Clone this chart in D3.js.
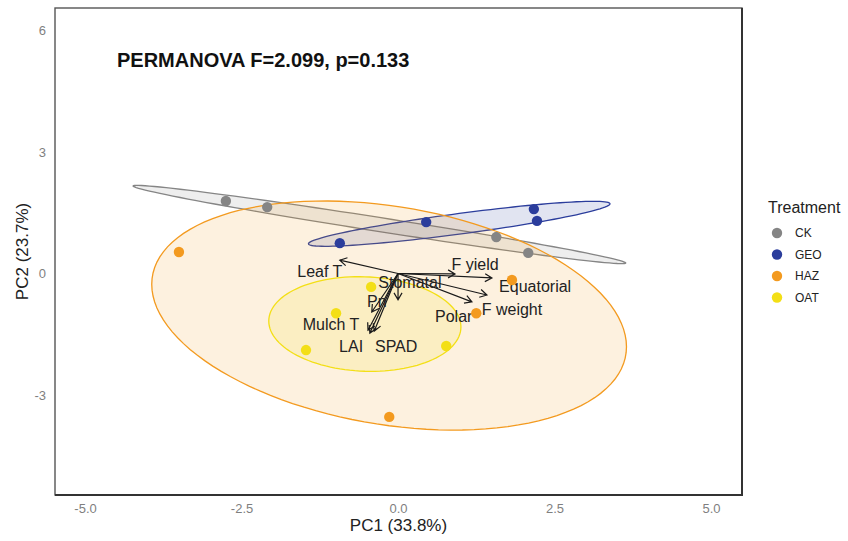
<!DOCTYPE html>
<html>
<head>
<meta charset="utf-8">
<script src="https://cdn.jsdelivr.net/npm/d3@7"></script>
<style>
  html, body { margin: 0; padding: 0; background: #fff; }
  text { font-family: "Liberation Sans", Arial, sans-serif; }
</style>
</head>
<body>
<svg id="chart" width="848" height="541"></svg>
<script>
// ---------------- data ----------------
const treatments = ["CK", "GEO", "HAZ", "OAT"];
const treatmentColors = ["#858585", "#2b3d9c", "#f39a1f", "#f3df16"];

const ckPC1 = [-2.75, -2.09, 1.57, 2.08];
const ckPC2 = [1.79, 1.64, 0.90, 0.51];
const geoPC1 = [-0.93, 0.45, 2.17, 2.22];
const geoPC2 = [0.75, 1.27, 1.59, 1.30];
const hazPC1 = [-3.50, 1.82, 1.25, -0.14];
const hazPC2 = [0.53, -0.16, -0.98, -3.54];
const oatPC1 = [-0.43, -0.99, -1.47, 0.77];
const oatPC2 = [-0.33, -0.98, -1.89, -1.79];

const variableNames = ["Leaf T", "F yield", "Equatorial", "F weight", "Polar", "Stomatal", "Pn", "Mulch T", "LAI", "SPAD"];
const loadingPC1 = [-0.93, 0.91, 1.50, 1.42, 1.18, 0.00, -0.42, -0.48, -0.45, -0.38];
const loadingPC2 = [0.33, -0.01, -0.11, -0.53, -0.70, -0.65, -0.95, -1.40, -1.47, -1.42];
const labelPC1 = [-1.25, 1.23, 2.19, 1.82, 0.89, 0.19, -0.34, -1.07, -0.75, -0.03];
const labelPC2 = [0.04, 0.23, -0.33, -0.88, -1.05, -0.21, -0.70, -1.27, -1.81, -1.81];

const xTicks = [-5.0, -2.5, 0.0, 2.5, 5.0];
const yTicks = [-3, 0, 3, 6];
const xDomain = [-5.48, 5.495];
const yDomain = [-5.469, 6.556];
const ellipseScale = 1.59;

const titleText = "PERMANOVA F=2.099, p=0.133";
const xTitle = "PC1 (33.8%)";
const yTitle = "PC2 (23.7%)";
const legendTitle = "Treatment";

// ---------------- layout ----------------
const panel = { left: 55, top: 8, right: 742, bottom: 495 };
const svg = d3.select("#chart");
const x = d3.scaleLinear().domain(xDomain).range([panel.left, panel.right]);
const y = d3.scaleLinear().domain(yDomain).range([panel.bottom, panel.top]);

const groups = [
  { name: treatments[0], color: treatmentColors[0], xs: ckPC1, ys: ckPC2 },
  { name: treatments[1], color: treatmentColors[1], xs: geoPC1, ys: geoPC2 },
  { name: treatments[2], color: treatmentColors[2], xs: hazPC1, ys: hazPC2 },
  { name: treatments[3], color: treatmentColors[3], xs: oatPC1, ys: oatPC2 }
];

svg.append("rect").attr("x", panel.left).attr("y", panel.top)
  .attr("width", panel.right - panel.left).attr("height", panel.bottom - panel.top)
  .attr("fill", "#fff");

svg.append("clipPath").attr("id", "clip").append("rect")
  .attr("x", panel.left).attr("y", panel.top)
  .attr("width", panel.right - panel.left).attr("height", panel.bottom - panel.top);
const plot = svg.append("g").attr("clip-path", "url(#clip)");

// ellipses from covariance of each group
function ellipsePoints(xs, ys) {
  const n = xs.length;
  const mx = d3.mean(xs), my = d3.mean(ys);
  let sxx = 0, syy = 0, sxy = 0;
  for (let i = 0; i < n; i++) {
    sxx += (xs[i] - mx) ** 2;
    syy += (ys[i] - my) ** 2;
    sxy += (xs[i] - mx) * (ys[i] - my);
  }
  sxx /= (n - 1); syy /= (n - 1); sxy /= (n - 1);
  const l11 = Math.sqrt(sxx), l21 = sxy / l11, l22 = Math.sqrt(Math.max(syy - l21 * l21, 1e-9));
  const pts = [];
  for (let k = 0; k <= 120; k++) {
    const t = 2 * Math.PI * k / 120;
    const c = Math.cos(t), s = Math.sin(t);
    pts.push([mx + ellipseScale * (l11 * c), my + ellipseScale * (l21 * c + l22 * s)]);
  }
  return pts;
}
const line = d3.line().x(d => x(d[0])).y(d => y(d[1])).curve(d3.curveLinearClosed);
groups.forEach(g => {
  plot.append("path").datum(ellipsePoints(g.xs, g.ys))
    .attr("d", line)
    .attr("fill", g.color).attr("fill-opacity", 0.14)
    .attr("stroke", g.color).attr("stroke-width", 1.3);
});

// loading arrows
const arrows = plot.append("g");
variableNames.forEach((v, i) => {
  const x0 = x(0), y0 = y(0), x1 = x(loadingPC1[i]), y1 = y(loadingPC2[i]);
  const ang = Math.atan2(y1 - y0, x1 - x0);
  const hl = 8, ha = Math.PI / 6;
  const p1 = [x1 - hl * Math.cos(ang - ha), y1 - hl * Math.sin(ang - ha)];
  const p2 = [x1 - hl * Math.cos(ang + ha), y1 - hl * Math.sin(ang + ha)];
  arrows.append("path")
    .attr("d", `M${x0},${y0}L${x1},${y1}M${p1[0]},${p1[1]}L${x1},${y1}L${p2[0]},${p2[1]}`)
    .attr("fill", "none").attr("stroke", "#1a1a1a").attr("stroke-width", 1.2);
});

// variable labels
variableNames.forEach((v, i) => {
  plot.append("text").attr("x", x(labelPC1[i])).attr("y", y(labelPC2[i]))
    .attr("text-anchor", "middle").attr("dominant-baseline", "central")
    .attr("font-size", 16).attr("fill", "#222").text(v);
});

// points
groups.forEach(g => {
  plot.selectAll(null).data(g.xs.map((d, i) => [d, g.ys[i]])).enter()
    .append("circle").attr("cx", d => x(d[0])).attr("cy", d => y(d[1]))
    .attr("r", 5.2).attr("fill", g.color);
});

// title
svg.append("text").attr("x", 117).attr("y", 67)
  .attr("font-size", 20).attr("font-weight", "bold").attr("fill", "#111").text(titleText);

// border
svg.append("rect").attr("x", panel.left).attr("y", panel.top)
  .attr("width", panel.right - panel.left).attr("height", panel.bottom - panel.top)
  .attr("fill", "none").attr("stroke", "#555").attr("stroke-width", 1.4);
svg.append("path")
  .attr("d", `M${panel.left},${panel.bottom}L${panel.right},${panel.bottom}L${panel.right},${panel.top}`)
  .attr("fill", "none").attr("stroke", "#333").attr("stroke-width", 2);

// axes (plain hyphen for negatives, as in the reference)
const hyphen = f => d => f(d).replace("\u2212", "-");
const xAxis = d3.axisBottom(x).tickValues(xTicks).tickFormat(hyphen(d3.format(".1f"))).tickSize(0).tickPadding(9);
const gx = svg.append("g").attr("transform", `translate(0,${panel.bottom})`).call(xAxis);
gx.select(".domain").remove();
gx.selectAll("text").attr("font-size", 13).attr("fill", "#7f7f7f").attr("font-family", "Liberation Sans, Arial, sans-serif");

const yAxis = d3.axisLeft(y).tickValues(yTicks).tickFormat(hyphen(d3.format("d"))).tickSize(0).tickPadding(9);
const gy = svg.append("g").attr("transform", `translate(${panel.left},0)`).call(yAxis);
gy.select(".domain").remove();
gy.selectAll("text").attr("font-size", 13).attr("fill", "#7f7f7f").attr("font-family", "Liberation Sans, Arial, sans-serif");

svg.append("text").attr("x", (panel.left + panel.right) / 2).attr("y", 531)
  .attr("text-anchor", "middle").attr("font-size", 17).attr("fill", "#222").text(xTitle);
svg.append("text").attr("transform", `translate(28,${(panel.top + panel.bottom) / 2}) rotate(-90)`)
  .attr("text-anchor", "middle").attr("font-size", 17).attr("fill", "#222").text(yTitle);

// legend
const legend = svg.append("g");
legend.append("text").attr("x", 768).attr("y", 213).attr("font-size", 16).attr("fill", "#222").text(legendTitle);
treatments.forEach((t, i) => {
  const cy = 233 + i * 21.5;
  legend.append("circle").attr("cx", 777).attr("cy", cy).attr("r", 5.2).attr("fill", treatmentColors[i]);
  legend.append("text").attr("x", 795).attr("y", cy).attr("dominant-baseline", "central")
    .attr("font-size", 12).attr("fill", "#222").text(t);
});
</script>
</body>
</html>
